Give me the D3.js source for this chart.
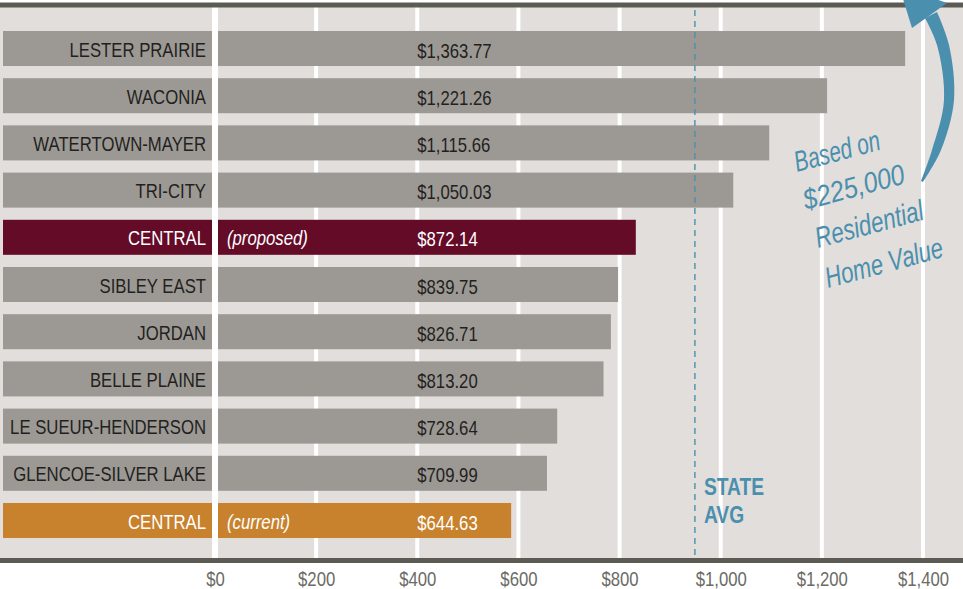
<html>
<head>
    <script src="https://cdn.jsdelivr.net/npm/d3@7/dist/d3.min.js" charset="utf-8"></script>
    <style>
        body { margin: 0; background: #fff; }
    </style>
</head>
<body>
    <script type="text/javascript">
        var width = 963;
        var height = 589;

        // Data
        const districts = ["LESTER PRAIRIE", "WACONIA", "WATERTOWN-MAYER", "TRI-CITY", "CENTRAL",
            "SIBLEY EAST", "JORDAN", "BELLE PLAINE", "LE SUEUR-HENDERSON", "GLENCOE-SILVER LAKE", "CENTRAL"];
        const taxes = [1363.77, 1221.26, 1115.66, 1050.03, 872.14, 839.75, 826.71, 813.20, 728.64, 709.99, 644.63];
        const notes = ["", "", "", "", "(proposed)", "", "", "", "", "", "(current)"];
        const tickValues = [0, 200, 400, 600, 800, 1000, 1200, 1400];
        const stateAvg = 980;
        const noteLines = ["Based on", "$225,000", "Residential", "Home Value"];

        const bg = "#e1dedb";
        const grey = "#9c9994";
        const colors = { "(proposed)": "#640b28", "(current)": "#c8822d" };
        const blue = "#4a8fae";
        const font = "'Liberation Sans', Arial, sans-serif";
        const squeeze = 0.836;   // fake a narrow face

        const svg = d3.select("body").append("svg")
            .attr("width", width)
            .attr("height", height);

        const rows = d3.range(districts.length);

        // axis scale (tick labels + grid) and the scale the bars were drawn with
        const xAxis = d3.scaleLinear().domain([0, 1400]).range([215, 923]);
        const xBar = d3.scaleLinear().domain([0, 1400]).range([158, 925]);
        const y = d3.scaleBand().domain(rows).range([24.9, 544.1])
            .paddingInner(0.258).paddingOuter(0.129);

        const at = (x, yy) => `translate(${x},${yy}) scale(${squeeze},1)`;

        // background panel
        svg.append("rect").attr("x", 0).attr("y", 5).attr("width", width).attr("height", 555).attr("fill", bg);

        // white grid lines
        svg.append("g").selectAll("rect")
            .data(tickValues)
            .join("rect")
            .attr("x", d => xAxis(d) - (d === 0 ? 3 : 2))
            .attr("y", 7)
            .attr("width", d => d === 0 ? 6 : 4)
            .attr("height", 551)
            .attr("fill", "#fff");

        // label bars
        svg.append("g").selectAll("rect")
            .data(rows)
            .join("rect")
            .attr("x", 3)
            .attr("y", i => y(i))
            .attr("width", 209)
            .attr("height", y.bandwidth())
            .attr("fill", i => colors[notes[i]] || grey);

        // value bars
        svg.append("g").selectAll("rect")
            .data(rows)
            .join("rect")
            .attr("x", 218)
            .attr("y", i => y(i))
            .attr("width", i => xBar(taxes[i]) - 218)
            .attr("height", y.bandwidth())
            .attr("fill", i => colors[notes[i]] || grey);

        // category labels
        svg.append("g").selectAll("text")
            .data(rows)
            .join("text")
            .attr("transform", i => at(206, y(i) + y.bandwidth() / 2 + 8))
            .attr("text-anchor", "end")
            .style("font-family", font)
            .style("font-size", "20px")
            .attr("fill", i => notes[i] ? "#fff" : "#231f20")
            .text(i => districts[i]);

        // notes
        svg.append("g").selectAll("text")
            .data(rows.filter(i => notes[i]))
            .join("text")
            .attr("transform", i => at(227, y(i) + y.bandwidth() / 2 + 8))
            .style("font-family", font)
            .style("font-size", "20px")
            .style("font-style", "italic")
            .attr("fill", "#fff")
            .text(i => notes[i]);

        // values
        const money = d3.format("$,.2f");
        svg.append("g").selectAll("text")
            .data(rows)
            .join("text")
            .attr("transform", i => at(xAxis(400), y(i) + y.bandwidth() / 2 + 9))
            .style("font-family", font)
            .style("font-size", "20px")
            .attr("fill", i => notes[i] ? "#fff" : "#231f20")
            .text(i => money(taxes[i]));

        // state average
        svg.append("line")
            .attr("x1", xBar(stateAvg)).attr("x2", xBar(stateAvg))
            .attr("y1", 10).attr("y2", 558)
            .attr("stroke", blue)
            .attr("stroke-width", 1.4)
            .attr("stroke-dasharray", "6,5");

        svg.append("text")
            .attr("transform", at(xBar(stateAvg) + 9, 495))
            .style("font-family", font)
            .style("font-size", "23px")
            .style("font-weight", "bold")
            .attr("fill", blue)
            .call(t => t.append("tspan").text("STATE"))
            .call(t => t.append("tspan").attr("x", 0).attr("dy", 28).text("AVG"));

        // top and bottom rules
        svg.append("rect").attr("x", 0).attr("y", 2.5).attr("width", width).attr("height", 5).attr("fill", "#5b5b54");
        svg.append("rect").attr("x", 0).attr("y", 558).attr("width", width).attr("height", 5).attr("fill", "#5b5b54");

        // axis
        const axis = svg.append("g")
            .attr("transform", "translate(0,568)")
            .call(d3.axisBottom(xAxis).tickValues(tickValues).tickSize(0)
                .tickFormat(d => "$" + d3.format(",")(d)));
        axis.select(".domain").remove();
        axis.selectAll("text")
            .attr("dy", 0)
            .attr("y", 0)
            .attr("transform", `translate(0,18) scale(${squeeze},1)`)
            .style("font-family", font)
            .style("font-size", "20px")
            .attr("fill", "#6b6b66");

        // handwritten note
        const notePos = [[797, 172], [806, 210], [818, 248], [828, 288]];
        const noteLen = [88, 104, 111, 121];
        svg.append("g").selectAll("text")
            .data(noteLines)
            .join("text")
            .attr("transform", (d, i) => `translate(${notePos[i][0]},${notePos[i][1]}) rotate(-15)`)
            .attr("textLength", (d, i) => noteLen[i])
            .attr("lengthAdjust", "spacingAndGlyphs")
            .style("font-family", font)
            .style("font-size", "29px")
            .style("font-style", "italic")
            .attr("fill", blue)
            .text(d => d);

        // curved arrow
        const outer = [[923, 182], [941, 150], [954, 100], [949, 45], [937, 12]];
        const inner = [[925, 18], [937, 45], [944, 100], [932, 150], [921, 181]];
        const curve = d3.line().curve(d3.curveCatmullRom);
        svg.append("path")
            .attr("d", curve(outer) + "L" + curve(inner).slice(1) + "Z")
            .attr("fill", blue);
        svg.append("path")
            .attr("d", "M899,-14 L912,28 L947,3 Z")
            .attr("fill", blue);
    </script>
</body>
</html>
